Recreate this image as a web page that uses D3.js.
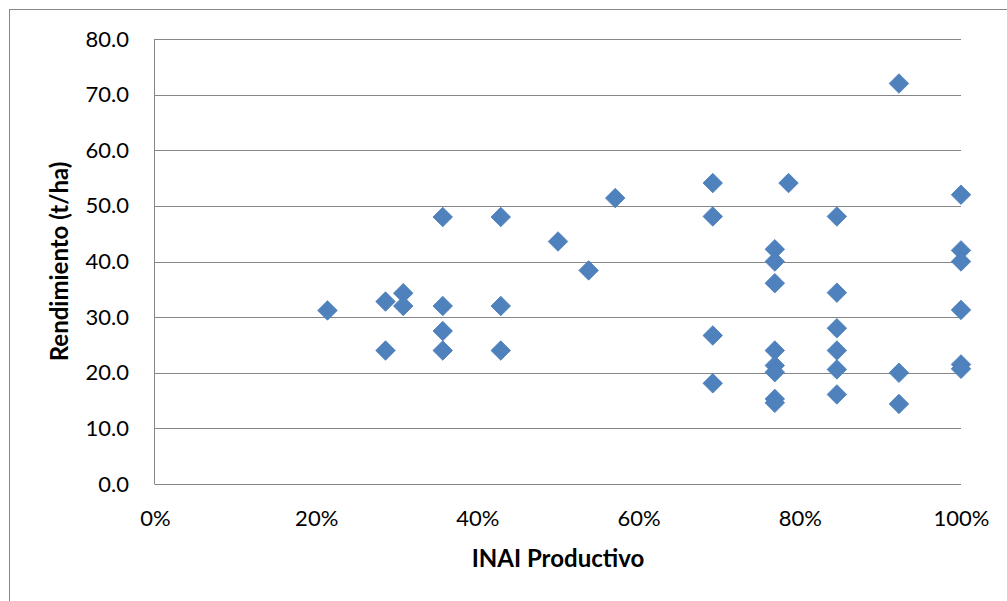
<!DOCTYPE html>
<html>
<head>
<meta charset="utf-8">
<script src="https://cdn.jsdelivr.net/npm/d3@7"></script>
<style>
  body { margin: 0; background: #fff; }
  text { font-family: Lato, "Liberation Sans", sans-serif; fill: #000; }
</style>
</head>
<body>
<div id="chart-area"></div>
<script>
// data
var inai = [0.214, 0.286, 0.286, 0.308, 0.308, 0.357, 0.357, 0.357, 0.357,
	0.429, 0.429, 0.429, 0.5, 0.538, 0.571,
	0.692, 0.692, 0.692, 0.692,
	0.769, 0.769, 0.769, 0.769, 0.769, 0.769, 0.769, 0.769, 0.786,
	0.846, 0.846, 0.846, 0.846, 0.846, 0.846,
	0.923, 0.923, 0.923,
	1.0, 1.0, 1.0, 1.0, 1.0, 1.0];
var rendimiento = [31.2, 32.8, 24.0, 34.3, 32.0, 48.0, 32.0, 27.5, 24.0,
	48.0, 32.0, 24.0, 43.6, 38.4, 51.4,
	54.1, 48.1, 26.7, 18.1,
	42.2, 40.0, 36.1, 24.0, 21.3, 20.1, 15.3, 14.6, 54.1,
	48.1, 34.4, 28.0, 24.0, 20.6, 16.1,
	72.0, 20.0, 14.4,
	52.0, 42.0, 40.0, 31.3, 21.5, 20.7];
var yTicks = [0, 10, 20, 30, 40, 50, 60, 70, 80];
var xTicks = [0, 0.2, 0.4, 0.6, 0.8, 1.0];

var points = inai.map((v, i) => ({ x: v, y: rendimiento[i] }));

var margin = { left: 155, right: 46, top: 39, bottom: 117 };
var fullW = 1007, fullH = 601;
var width = fullW - margin.left - margin.right;
var height = fullH - margin.top - margin.bottom;

var svg = d3.select("#chart-area").append("svg")
	.attr("width", fullW)
	.attr("height", fullH);

// outer chart border (only top/left visible in frame)
svg.append("rect")
	.attr("x", 9.5).attr("y", 9.5)
	.attr("width", fullW + 20).attr("height", fullH + 20)
	.attr("fill", "none")
	.attr("stroke", "#868686");

var g = svg.append("g")
	.attr("transform", "translate(" + margin.left + ", " + margin.top + ")");

var x = d3.scaleLinear().domain([0, 1]).range([0, width]);
var y = d3.scaleLinear().domain([0, 80]).range([height, 0]);

// gridlines
g.selectAll(".grid")
	.data(yTicks.filter(d => d > 0))
	.enter().append("line")
	.attr("x1", 0).attr("x2", width)
	.attr("y1", d => Math.round(y(d)) + 0.5)
	.attr("y2", d => Math.round(y(d)) + 0.5)
	.attr("stroke", "#868686");

// axes
var yAxisCall = d3.axisLeft(y).tickValues(yTicks).tickSize(0).tickPadding(26)
	.tickFormat(d3.format(".1f"));
var xAxisCall = d3.axisBottom(x).tickValues(xTicks).tickSize(0).tickPadding(26)
	.tickFormat(d3.format(".0%"));

var yAxisGroup = g.append("g").call(yAxisCall);
var xAxisGroup = g.append("g")
	.attr("transform", "translate(0, " + height + ")")
	.call(xAxisCall);

[yAxisGroup, xAxisGroup].forEach(ax => {
	ax.select(".domain").remove();
	ax.selectAll("text").style("font-size", "22px").attr("fill", "#000");
});

// axis lines
g.append("line")
	.attr("x1", -0.5).attr("x2", -0.5)
	.attr("y1", 0).attr("y2", height)
	.attr("stroke", "#868686");
g.append("line")
	.attr("x1", -0.5).attr("x2", width)
	.attr("y1", Math.round(height) + 0.5).attr("y2", Math.round(height) + 0.5)
	.attr("stroke", "#868686");

// points
g.selectAll(".pt")
	.data(points)
	.enter().append("path")
	.attr("d", d3.symbol().type(d3.symbolSquare).size(190))
	.attr("transform", d => "translate(" + x(d.x) + "," + y(d.y) + ") rotate(45)")
	.attr("fill", "#4f81bd")
	.attr("stroke", "#4a7ebb")
	.attr("stroke-width", 0.8);

// x label
g.append("text")
	.attr("x", width / 2)
	.attr("y", height + 83)
	.attr("text-anchor", "middle")
	.style("font-size", "24px")
	.style("font-weight", "bold")
	.text("INAI Productivo");

// y label
g.append("text")
	.attr("transform", "rotate(-90)")
	.attr("x", -(height / 2))
	.attr("y", -87)
	.attr("text-anchor", "middle")
	.style("font-size", "24px")
	.style("font-weight", "bold")
	.text("Rendimiento (t/ha)");
</script>
</body>
</html>
